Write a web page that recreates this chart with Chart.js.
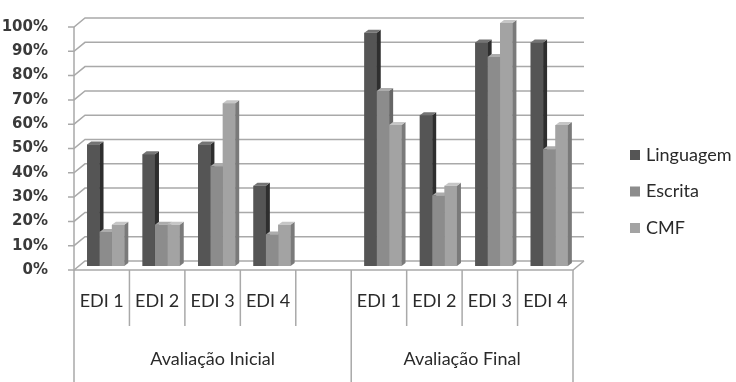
<!DOCTYPE html>
<html>
<head>
<meta charset="utf-8">
<script src="https://cdn.jsdelivr.net/npm/chart.js@4/dist/chart.umd.min.js"></script>
<style>
  body { margin: 0; background: #fff; }
  #wrap { width: 736px; height: 382px; }
</style>
</head>
<body>
<div id="wrap"><canvas id="myChart"></canvas></div>
<script>
// categories (the empty one is the gap between the two evaluations)
const categories = ["EDI 1", "EDI 2", "EDI 3", "EDI 4", "", "EDI 1", "EDI 2", "EDI 3", "EDI 4"];
const groupLabels = ["Avaliação Inicial", "Avaliação Final"];
const groupStarts = [0, 5]; // first category index of each group

const linguagem = [50, 46, 50, 33, null, 96, 62, 92, 92];
const escrita = [14, 17, 41, 13, null, 72, 29, 86, 48];
const cmf = [17, 17, 67, 17, null, 58, 33, 100, 58];

const yTicks = [0, 10, 20, 30, 40, 50, 60, 70, 80, 90, 100];

// grey shades per series: front, right side, top
const shades = [
  { front: "#555555", side: "#2e2e2e", top: "#747474" },
  { front: "#8c8c8c", side: "#666666", top: "#acacac" },
  { front: "#a3a3a3", side: "#7a7a7a", top: "#c6c6c6" },
];

const WALL_DX = 11, WALL_DY = -9;   // depth of the back wall
const BAR_DX = 4, BAR_DY = -4;      // bars stand half way into the floor
const SIDE_DX = 4, SIDE_DY = -3;    // thickness of each column
const GRID = "#a9a9a9";
const TEXT = "#2a2a2a";

function drawColumnFaces(ctx, bar, s) {
  const p = bar.getProps(["x", "y", "base", "width"], true);
  const l = p.x - p.width / 2;
  const r = p.x + p.width / 2;

  ctx.fillStyle = s.side;
  ctx.beginPath();
  ctx.moveTo(r, p.base);
  ctx.lineTo(r, p.y);
  ctx.lineTo(r + SIDE_DX, p.y + SIDE_DY);
  ctx.lineTo(r + SIDE_DX, p.base + SIDE_DY);
  ctx.closePath();
  ctx.fill();

  ctx.fillStyle = s.top;
  ctx.beginPath();
  ctx.moveTo(l, p.y);
  ctx.lineTo(r, p.y);
  ctx.lineTo(r + SIDE_DX, p.y + SIDE_DY);
  ctx.lineTo(l + SIDE_DX, p.y + SIDE_DY);
  ctx.closePath();
  ctx.fill();
}

const box3d = {
  id: "box3d",
  beforeDatasetsDraw(chart) {
    const ctx = chart.ctx;
    const a = chart.chartArea;
    const y = chart.scales.y;

    ctx.save();
    ctx.strokeStyle = GRID;
    ctx.lineWidth = 1.5;
    yTicks.forEach((v) => {
      const py = y.getPixelForValue(v);
      ctx.beginPath();
      ctx.moveTo(a.left - 6, py);
      ctx.lineTo(a.left, py);
      ctx.lineTo(a.left + WALL_DX, py + WALL_DY);
      ctx.lineTo(a.right + WALL_DX, py + WALL_DY);
      ctx.stroke();
    });

    // left edge, floor front and right floor corner
    ctx.beginPath();
    ctx.moveTo(a.left, a.top);
    ctx.lineTo(a.left, a.bottom);
    ctx.lineTo(a.right, a.bottom);
    ctx.lineTo(a.right + WALL_DX, a.bottom + WALL_DY);
    ctx.stroke();
    ctx.restore();

    ctx.save();
    ctx.translate(BAR_DX, BAR_DY);
  },
  afterDatasetsDraw(chart) {
    const ctx = chart.ctx;
    // left to right so each column hides the side of the one before it
    chart.data.datasets.forEach((ds, i) => {
      const meta = chart.getDatasetMeta(i);
      meta.data.forEach((bar, j) => {
        if (ds.data[j] == null) return;
        bar.draw(ctx);
        drawColumnFaces(ctx, bar, shades[i]);
      });
    });
    ctx.restore();
  },
  afterDraw(chart) {
    const ctx = chart.ctx;
    const a = chart.chartArea;
    const x = chart.scales.x;
    const step = (a.right - a.left) / categories.length;
    const rowBottom = a.bottom + 56;

    ctx.save();
    ctx.strokeStyle = GRID;
    ctx.lineWidth = 1.5;
    ctx.fillStyle = TEXT;
    ctx.font = "18px Lato";
    ctx.textAlign = "center";
    ctx.textBaseline = "middle";

    // category boxes under the floor
    for (let i = 0; i <= categories.length; i++) {
      const px = a.left + i * step;
      const full = groupStarts.includes(i) || i === categories.length;
      ctx.beginPath();
      ctx.moveTo(px, a.bottom);
      ctx.lineTo(px, full ? chart.height : rowBottom);
      ctx.stroke();
    }
    categories.forEach((c, i) => {
      ctx.fillText(c, x.getPixelForValue(i), a.bottom + 31);
    });

    groupLabels.forEach((g, k) => {
      const from = a.left + groupStarts[k] * step;
      const next = k + 1 < groupStarts.length ? groupStarts[k + 1] : categories.length;
      const to = a.left + next * step;
      ctx.fillText(g, (from + to) / 2, a.bottom + 89);
    });

    // legend
    ctx.textAlign = "left";
    chart.data.datasets.forEach((ds, i) => {
      const cy = 155 + i * 36.5;
      ctx.fillStyle = shades[i].front;
      ctx.fillRect(630, cy - 5, 10, 10);
      ctx.fillStyle = TEXT;
      ctx.fillText(ds.label, 646, cy);
    });
    ctx.restore();
  },
};

new Chart(document.getElementById("myChart"), {
  type: "bar",
  data: {
    labels: categories,
    datasets: [
      { label: "Linguagem", data: linguagem, backgroundColor: shades[0].front },
      { label: "Escrita", data: escrita, backgroundColor: shades[1].front },
      { label: "CMF", data: cmf, backgroundColor: shades[2].front },
    ],
  },
  options: {
    responsive: true,
    maintainAspectRatio: false,
    animation: false,
    events: [],
    layout: { padding: { top: 20, right: 163, bottom: 112, left: 0 } },
    datasets: {
      bar: {
        categoryPercentage: 0.67,
        barPercentage: 1.0,
        borderWidth: 0,
        clip: false,
      },
    },
    plugins: {
      legend: { display: false },
      tooltip: { enabled: false },
    },
    scales: {
      x: { display: false },
      y: {
        min: 0,
        max: 100,
        afterFit: (scale) => { scale.width = 74; },
        afterBuildTicks: (scale) => { scale.ticks = yTicks.map((v) => ({ value: v })); },
        border: { display: false },
        grid: { display: false },
        ticks: {
          padding: 18,
          color: "#3a3a3a",
          font: { family: "DejaVu Sans", size: 15, weight: "bold" },
          callback: (v) => v + "%",
        },
      },
    },
  },
  plugins: [box3d],
});
</script>
</body>
</html>
